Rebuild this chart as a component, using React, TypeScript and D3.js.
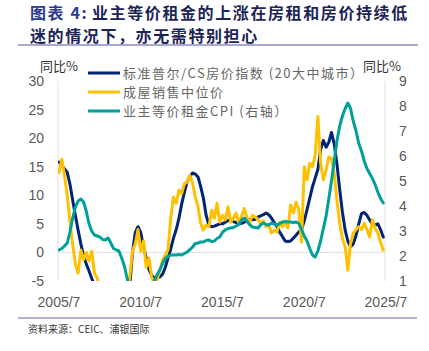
import React from 'react';
import * as d3 from 'd3';

// bimonthly, 2005/7 .. 2025/5
const caseShiller = [
  15.8, 15.3, 14.6, 14.0, 12.0, 9.2, 6.5, 3.9, 1.5, -0.6, -2.0, -3.2,
  -4.5, -5.8, -8.0, -10.5, -13.5, -15.8, -16.5, -17.5, -18.3, -18.8, -18.0, -16.0,
  -13.0, -9.0, -5.5, 0.2, 3.5, 4.5, 3.5, 1.0, -1.0, -3.0, -4.0, -4.5,
  -4.4, -4.3, -3.8, -2.6, -1.0, 0.6, 2.5, 4.0, 6.0, 8.5, 10.5, 12.3,
  13.3, 13.9, 13.7, 13.2, 11.5, 9.5, 6.5, 4.8, 4.5, 4.6, 4.8, 5.0,
  5.0, 5.3, 5.6, 5.7, 5.4, 5.2, 5.0, 5.1, 5.3, 5.6, 5.8, 5.7,
  5.8, 6.2, 6.4, 6.6, 6.9, 6.6, 6.0, 5.2, 4.5, 3.5, 2.8, 2.0,
  1.9, 2.0, 2.5, 3.0, 3.6, 4.0, 5.5, 7.5, 9.5, 11.5, 13.0, 14.5,
  18.0, 19.6, 18.4, 19.3, 21.0, 19.0, 15.5, 11.0, 7.0, 3.9, 2.0, 1.0,
  1.5, 3.0, 5.0, 6.8, 7.0, 6.5, 5.7, 4.9, 4.8, 5.0, 4.0, 2.7,
];

const medianPrice = [
  14.0, 16.3, 13.5, 10.0, 5.5, 1.5, -2.0, -3.6, 0.4, -1.3, 0.0, -1.5,
  0.2, -3.6, -4.5, -6.5, -8.0, -7.0, -9.0, -10.0, -12.5, -15.0, -15.5, -15.0,
  -12.0, -8.5, -4.0, 0.4, 1.5, 4.0, 0.2, 2.0, -2.6, -1.0, -4.3, -5.5,
  -4.8, -3.1, -1.3, -0.5, 0.5, 6.0, 9.7, 8.6, 10.9, 10.3, 12.0, 12.3,
  13.5, 12.1, 9.7, 8.0, 5.1, 3.9, 4.8, 4.5, 7.4, 6.0, 8.6, 5.3,
  6.5, 5.7, 8.0, 5.3, 6.0, 6.9, 5.1, 6.4, 7.7, 6.0, 5.3, 6.5,
  6.2, 5.8, 5.1, 5.5, 4.5, 4.8, 3.4, 3.9, 3.6, 5.3, 4.5, 5.5,
  4.3, 8.3, 6.9, 8.8, 7.5, 1.8, 15.0, 12.7, 15.6, 15.0, 17.0, 23.8,
  15.6, 12.7, 14.4, 16.7, 16.5, 13.9, 9.1, 5.1, 2.5, 1.0, -3.1, 1.6,
  3.4, 4.0, 4.5, 4.0, 5.1, 4.0, 2.7, 5.7, 4.2, 3.4, 1.8, 0.4,
];

const oerCpi = [
  2.24, 2.3, 2.4, 2.52, 2.95, 3.5, 3.95, 4.2, 4.28, 4.16, 3.8, 3.3,
  3.0, 2.84, 2.8, 2.76, 2.66, 2.64, 2.72, 2.52, 2.3, 2.24, 2.2, 1.92,
  1.6, 1.1, 0.7, 0.4, 0.1, -0.1, -0.1, 0.0, 0.2, 0.5, 0.85, 1.0,
  1.25, 1.44, 1.7, 1.9, 1.98, 2.04, 2.04, 2.04, 2.06, 2.04, 2.1, 2.16,
  2.25, 2.36, 2.5, 2.52, 2.56, 2.56, 2.62, 2.64, 2.58, 2.6, 2.7, 2.76,
  2.95, 3.04, 3.1, 3.12, 3.14, 3.2, 3.26, 3.45, 3.52, 3.38, 3.25, 3.16,
  3.14, 3.12, 3.25, 3.32, 3.26, 3.24, 3.32, 3.28, 3.24, 3.3, 3.36, 3.38,
  3.36, 3.36, 3.34, 3.36, 3.3, 3.06, 2.8, 2.6, 2.3, 2.04, 1.96, 2.2,
  2.6, 3.1, 3.6, 4.3, 5.0, 5.8, 6.6, 7.2, 7.6, 7.9, 8.12, 7.9,
  7.4, 7.0, 6.5, 6.2, 5.8, 5.5, 5.3, 5.1, 4.85, 4.55, 4.3, 4.12,
];

const leftTicks = [30, 25, 20, 15, 10, 5, 0, -5];
const rightTicks = [9, 8, 7, 6, 5, 4, 3, 2, 1];
const xTickLabels = ['2005/7', '2010/7', '2015/7', '2020/7', '2025/7'];
const legendLabels = ['标准普尔/CS房价指数 (20大中城市）', '成屋销售中位价', '业主等价租金CPI (右轴）'];
const colors = ['#002574', '#FFC000', '#00A09A'];

const start = new Date(2005, 6, 1);
const dates = caseShiller.map((_, i) => d3.timeMonth.offset(start, i * 2));

const plot = { left: 58, right: 386, top: 81, bottom: 281 };

const x = d3.scaleTime().domain([new Date(2005, 6, 1), new Date(2025, 6, 1)]).range([59, 386]);
const yL = d3.scaleLinear().domain([-5, 30]).range([plot.bottom, plot.top]);
const yR = d3.scaleLinear().domain([1, 9]).range([plot.bottom, plot.top]);

const lineL = d3.line<number>().x((_, i) => x(dates[i])).y(d => yL(d));
const lineR = d3.line<number>().x((_, i) => x(dates[i])).y(d => yR(d));

const numFont = '"Liberation Sans", Arial, sans-serif';
const cjkFont = '"Noto Sans CJK SC", "Noto Sans", sans-serif';

export default function App() {
  const xTicks = xTickLabels.map(s => {
    const [yy, mm] = s.split('/').map(Number);
    return { label: s, pos: x(new Date(yy, mm - 1, 1)) };
  });
  return (
    <svg width={429} height={351} style={{ position: 'absolute', left: 0, top: 0, background: '#fff' }}>
      <defs>
        <clipPath id="plotClip">
          <rect x={plot.left} y={plot.top} width={plot.right - plot.left} height={plot.bottom - plot.top} />
        </clipPath>
      </defs>

      {/* title */}
      <text x={30} y={18.5} fontFamily={cjkFont} fontWeight="bold" fontSize={16} letterSpacing={1.6} fill="#2b3a8f">
        图表 4:
      </text>
      <text x={92} y={18.5} fontFamily={cjkFont} fontWeight="bold" fontSize={16} letterSpacing={1.6} fill="#1c2456">
        业主等价租金的上涨在房租和房价持续低
      </text>
      <text x={30} y={41.5} fontFamily={cjkFont} fontWeight="bold" fontSize={16} letterSpacing={1.6} fill="#1c2456">
        迷的情况下，亦无需特别担心
      </text>
      <line x1={18} x2={418} y1={45} y2={45} stroke="#8c8cc0" strokeWidth={1.5} />

      {/* axis captions */}
      <text x={40} y={71} fontFamily={cjkFont} fontSize={13} fill="#333">同比%</text>
      <text x={363} y={71} fontFamily={cjkFont} fontSize={13} fill="#333">同比%</text>

      {/* axes lines */}
      <line x1={plot.left} x2={plot.left} y1={plot.top} y2={plot.bottom} stroke="#e0e0e0" strokeWidth={1} />
      <line x1={plot.right - 1} x2={plot.right - 1} y1={plot.top} y2={plot.bottom} stroke="#e0e0e0" strokeWidth={1} />
      <line x1={plot.left} x2={plot.right} y1={yL(0)} y2={yL(0)} stroke="#e0e0e0" strokeWidth={1} />

      {leftTicks.map(t => (
        <text key={'l' + t} x={44} y={yL(t) + 5} textAnchor="end" fontFamily={numFont} fontSize={14} fill="#595959">{t}</text>
      ))}
      {rightTicks.map(t => (
        <text key={'r' + t} x={399} y={yR(t) + 5} textAnchor="start" fontFamily={numFont} fontSize={14} fill="#595959">{t}</text>
      ))}
      {xTicks.map(t => (
        <text key={t.label} x={t.pos} y={307} textAnchor="middle" fontFamily={numFont} fontSize={14} fill="#595959">{t.label}</text>
      ))}

      {/* series */}
      <g clipPath="url(#plotClip)" fill="none" strokeWidth={3} strokeLinejoin="round" strokeLinecap="round">
        <path d={lineL(caseShiller) ?? ''} stroke={colors[0]} />
        <path d={lineL(medianPrice) ?? ''} stroke={colors[1]} />
        <path d={lineR(oerCpi) ?? ''} stroke={colors[2]} />
      </g>

      {/* legend */}
      {legendLabels.map((lab, i) => (
        <g key={lab} transform={`translate(88, ${73 + i * 19})`}>
          <line x1={0} x2={32} y1={0} y2={0} stroke={colors[i]} strokeWidth={3} />
          <text x={35} y={5} fontFamily={cjkFont} fontSize={13} letterSpacing={1.5} fill="#666">{lab}</text>
        </g>
      ))}

      {/* footer */}
      <line x1={18} x2={417} y1={318} y2={318} stroke="#9a9ac8" strokeWidth={1.5} />
      <text x={28} y={333} fontFamily={cjkFont} fontSize={10} fill="#333">资料来源：CEIC、浦银国际</text>
    </svg>
  );
}
